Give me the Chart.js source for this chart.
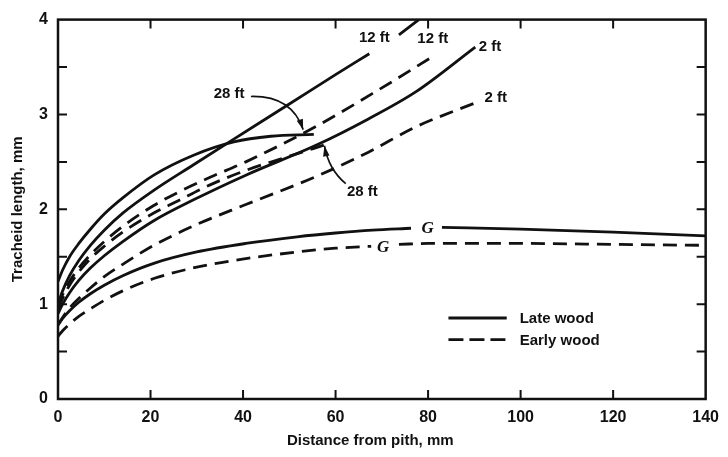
<!DOCTYPE html>
<html>
<head>
<meta charset="utf-8">
<script src="https://cdn.jsdelivr.net/npm/chart.js@4.4.0/dist/chart.umd.min.js"></script>
<style>
    html, body { margin: 0; padding: 0; background: #fff; }
</style>
</head>
<body>
<canvas id="chart" width="728" height="457"></canvas>
<script>
// distance from pith (mm) and tracheid length (mm)
// null = break in the line where a label sits
const late28X  = [0, 1, 2.5, 4.5, 7, 10, 14, 20.7, 29.3, 38, 46, 55.3];
const late28Y  = [1.24, 1.36, 1.5, 1.64, 1.79, 1.95, 2.12, 2.36, 2.57, 2.71, 2.77, 2.79];

const late12X  = [0, 1, 2.5, 4.5, 7, 10, 14, 20.7, 29.3, 38, 50, 60, 67.3, 70.5, 73.7, 78];
const late12Y  = [1.0, 1.14, 1.3, 1.46, 1.62, 1.78, 1.96, 2.2, 2.47, 2.74, 3.11, 3.42, 3.64, null, 3.84, 4.0];

const early12X = [0, 1, 2.5, 4.5, 7, 10, 14, 20.7, 26, 33, 40.6, 56, 70, 81];
const early12Y = [0.98, 1.1, 1.24, 1.38, 1.52, 1.66, 1.82, 2.04, 2.18, 2.34, 2.5, 2.88, 3.28, 3.61];

const early28X = [0, 1, 2.5, 4.5, 7, 10, 14, 20.7, 26, 33, 40.6, 50, 57.7];
const early28Y = [0.95, 1.06, 1.2, 1.34, 1.48, 1.61, 1.76, 1.96, 2.09, 2.26, 2.41, 2.56, 2.68];

const late2X   = [0, 1, 2.5, 4.5, 7, 10, 14, 20.7, 29.3, 40.6, 56, 67, 77.4, 90.2];
const late2Y   = [0.9, 1.0, 1.12, 1.25, 1.38, 1.51, 1.66, 1.88, 2.1, 2.36, 2.68, 2.95, 3.24, 3.71];

const early2X  = [0, 1, 2.5, 4.5, 7, 10, 14, 20.7, 30, 40.6, 56, 67, 77.4, 90.6];
const early2Y  = [0.78, 0.86, 0.96, 1.06, 1.17, 1.29, 1.42, 1.62, 1.84, 2.05, 2.35, 2.6, 2.87, 3.13];

const lateGX   = [0, 1, 2.5, 4.5, 7, 10, 14, 20.7, 30, 40.6, 51.7, 60, 68, 76.3, 79.6, 83, 100, 120, 140];
const lateGY   = [0.78, 0.85, 0.93, 1.02, 1.11, 1.2, 1.3, 1.43, 1.55, 1.64, 1.71, 1.75, 1.78, 1.80, null, 1.81, 1.79, 1.76, 1.72];

const earlyGX  = [0, 1, 2.5, 4.5, 7, 10, 14, 20.7, 30, 40.6, 51.7, 60, 67.7, 70.7, 73.7, 80, 100, 120, 140];
const earlyGY  = [0.66, 0.72, 0.79, 0.87, 0.95, 1.04, 1.14, 1.27, 1.39, 1.48, 1.55, 1.59, 1.61, null, 1.63, 1.64, 1.64, 1.63, 1.62];

// curve labels, in data units
const labelText = ['12 ft', '12 ft', '2 ft', '2 ft', '28 ft', '28 ft', 'G', 'G'];
const labelX    = [68.4, 81.0, 93.4, 94.6, 37.0, 65.8, 79.9, 70.3];
const labelY    = [3.81, 3.80, 3.71, 3.17, 3.22, 2.18, 1.80, 1.60];

const legendText = ['Late wood', 'Early wood'];

const INK = '#111';
const FONT = '"Liberation Sans", Arial, sans-serif';

const toPoints = (xs, ys) => xs.map((x, i) => ({ x, y: ys[i] }));

const curve = (xs, ys, dashed) => ({
    data: toPoints(xs, ys),
    borderColor: INK,
    borderWidth: 2.8,
    borderDash: dashed ? [14, 8] : [],
    pointRadius: 0,
    fill: false,
    spanGaps: false,
    cubicInterpolationMode: 'monotone'
});

function arrow(ctx, x, y, from, ctrl, to) {
    const p0 = [x.getPixelForValue(from[0]), y.getPixelForValue(from[1])];
    const p1 = [x.getPixelForValue(ctrl[0]), y.getPixelForValue(ctrl[1])];
    const p2 = [x.getPixelForValue(to[0]), y.getPixelForValue(to[1])];
    ctx.beginPath();
    ctx.moveTo(p0[0], p0[1]);
    ctx.quadraticCurveTo(p1[0], p1[1], p2[0], p2[1]);
    ctx.stroke();
    const ang = Math.atan2(p2[1] - p1[1], p2[0] - p1[0]);
    ctx.beginPath();
    ctx.moveTo(p2[0], p2[1]);
    ctx.lineTo(p2[0] - 11 * Math.cos(ang - 0.3), p2[1] - 11 * Math.sin(ang - 0.3));
    ctx.lineTo(p2[0] - 11 * Math.cos(ang + 0.3), p2[1] - 11 * Math.sin(ang + 0.3));
    ctx.closePath();
    ctx.fill();
}

const decorations = {
    id: 'decorations',
    afterDraw(chart) {
        const { ctx, chartArea: a, scales: { x, y } } = chart;
        ctx.save();
        ctx.strokeStyle = INK;
        ctx.fillStyle = INK;

        // frame with inward ticks
        ctx.lineWidth = 2.5;
        ctx.strokeRect(a.left, a.top, a.right - a.left, a.bottom - a.top);
        ctx.lineWidth = 2;
        ctx.beginPath();
        for (let v = 0.5; v < 4; v += 0.5) {
            const py = y.getPixelForValue(v);
            ctx.moveTo(a.left, py); ctx.lineTo(a.left + 9, py);
            ctx.moveTo(a.right, py); ctx.lineTo(a.right - 9, py);
        }
        for (let v = 20; v < 140; v += 20) {
            const px = x.getPixelForValue(v);
            ctx.moveTo(px, a.bottom); ctx.lineTo(px, a.bottom - 9);
            ctx.moveTo(px, a.top); ctx.lineTo(px, a.top + 9);
        }
        ctx.stroke();

        // curve labels
        ctx.textAlign = 'center';
        ctx.textBaseline = 'middle';
        labelText.forEach((t, i) => {
            ctx.font = t === 'G'
                ? 'italic bold 17px "Liberation Serif", serif'
                : 'bold 15px ' + FONT;
            ctx.fillText(t, x.getPixelForValue(labelX[i]), y.getPixelForValue(labelY[i]));
        });

        // arrows to the ends of the 28 ft curves
        ctx.lineWidth = 1.6;
        arrow(ctx, x, y, [41.7, 3.19], [50.5, 3.2], [53.0, 2.84]);
        arrow(ctx, x, y, [62.2, 2.27], [58.5, 2.42], [57.6, 2.67]);

        // legend
        ctx.lineWidth = 2.8;
        const lx0 = x.getPixelForValue(84.4), lx1 = x.getPixelForValue(97.0);
        const ly = [y.getPixelForValue(0.854), y.getPixelForValue(0.625)];
        ly.forEach((py, i) => {
            ctx.setLineDash(i === 0 ? [] : [15, 6]);
            ctx.beginPath();
            ctx.moveTo(lx0, py); ctx.lineTo(lx1, py);
            ctx.stroke();
        });
        ctx.setLineDash([]);
        ctx.textAlign = 'left';
        ctx.font = 'bold 15px ' + FONT;
        legendText.forEach((t, i) => ctx.fillText(t, x.getPixelForValue(99.8), ly[i] + 1));

        // x axis title
        ctx.textAlign = 'center';
        ctx.font = 'bold 15px ' + FONT;
        ctx.fillText('Distance from pith, mm', x.getPixelForValue(67.5), 441);
        ctx.restore();
    }
};

new Chart(document.getElementById('chart'), {
    type: 'line',
    data: {
        datasets: [
            curve(late28X, late28Y, false),
            curve(late12X, late12Y, false),
            curve(early12X, early12Y, true),
            curve(early28X, early28Y, true),
            curve(late2X, late2Y, false),
            curve(early2X, early2Y, true),
            curve(lateGX, lateGY, false),
            curve(earlyGX, earlyGY, true)
        ]
    },
    options: {
        responsive: false,
        animation: false,
        layout: { padding: { top: 14, right: 15, left: 0, bottom: 0 } },
        plugins: {
            legend: { display: false },
            tooltip: { enabled: false }
        },
        scales: {
            x: {
                type: 'linear',
                min: 0,
                max: 140,
                afterFit: (s) => { s.height = 58; },
                grid: { display: false, drawTicks: false },
                border: { display: false },
                ticks: {
                    stepSize: 20,
                    padding: 9,
                    color: INK,
                    font: { family: FONT, size: 16, weight: 'bold' }
                }
            },
            y: {
                min: 0,
                max: 4,
                afterFit: (s) => { s.width = 58; },
                grid: { display: false, drawTicks: false },
                border: { display: false },
                ticks: {
                    stepSize: 1,
                    padding: 10,
                    color: INK,
                    font: { family: FONT, size: 16, weight: 'bold' }
                },
                title: {
                    display: true,
                    text: 'Tracheid length, mm',
                    color: INK,
                    padding: { top: 9, bottom: 0 },
                    font: { family: FONT, size: 15, weight: 'bold' }
                }
            }
        }
    },
    plugins: [decorations]
});
</script>
</body>
</html>
